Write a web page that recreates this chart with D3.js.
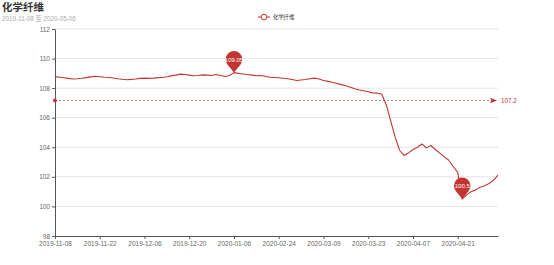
<!DOCTYPE html>
<html>
<head>
<meta charset="utf-8">
<script src="https://cdn.jsdelivr.net/npm/d3@7"></script>
<style>
    body { margin: 0; background: #fff; }
    svg { display: block; font-family: "Liberation Sans", "Noto Sans CJK SC", sans-serif; }
</style>
</head>
<body>
<div id="container"></div>
<script>
const chartTitle = "化学纤维";
const chartSubtitle = "2019-11-08 至 2020-05-06";
const seriesName = "化学纤维";

const dates = [
    "2019-11-08", "2019-11-11", "2019-11-12", "2019-11-13", "2019-11-14", "2019-11-15", "2019-11-18", "2019-11-19", "2019-11-20", "2019-11-21",
    "2019-11-22", "2019-11-25", "2019-11-26", "2019-11-27", "2019-11-28", "2019-11-29", "2019-12-02", "2019-12-03", "2019-12-04", "2019-12-05",
    "2019-12-06", "2019-12-09", "2019-12-10", "2019-12-11", "2019-12-12", "2019-12-13", "2019-12-16", "2019-12-17", "2019-12-18", "2019-12-19",
    "2019-12-20", "2019-12-23", "2019-12-24", "2019-12-25", "2019-12-26", "2019-12-27", "2019-12-30", "2019-12-31", "2020-01-02", "2020-01-03",
    "2020-01-06", "2020-01-07", "2020-01-08", "2020-01-09", "2020-01-10", "2020-01-13", "2020-01-14", "2020-01-15", "2020-01-16", "2020-01-17",
    "2020-02-24", "2020-02-25", "2020-02-26", "2020-02-27", "2020-02-28", "2020-03-02", "2020-03-03", "2020-03-04", "2020-03-05", "2020-03-06",
    "2020-03-09", "2020-03-10", "2020-03-11", "2020-03-12", "2020-03-13", "2020-03-16", "2020-03-17", "2020-03-18", "2020-03-19", "2020-03-20",
    "2020-03-23", "2020-03-24", "2020-03-25", "2020-03-26", "2020-03-27", "2020-03-30", "2020-03-31", "2020-04-01", "2020-04-02", "2020-04-03",
    "2020-04-07", "2020-04-08", "2020-04-09", "2020-04-10", "2020-04-13", "2020-04-14", "2020-04-15", "2020-04-16", "2020-04-17", "2020-04-20",
    "2020-04-21", "2020-04-22", "2020-04-23", "2020-04-24", "2020-04-26", "2020-04-27", "2020-04-28", "2020-04-29", "2020-04-30", "2020-05-06"];

const values = [
    108.78, 108.74, 108.70, 108.66, 108.62, 108.64, 108.67, 108.71, 108.76, 108.80,
    108.77, 108.74, 108.72, 108.69, 108.64, 108.60, 108.57, 108.59, 108.62, 108.66,
    108.68, 108.66, 108.68, 108.71, 108.72, 108.77, 108.83, 108.88, 108.95, 108.92,
    108.88, 108.84, 108.86, 108.90, 108.88, 108.86, 108.92, 108.86, 108.79, 108.86,
    109.05, 109.00, 108.96, 108.92, 108.88, 108.84, 108.86, 108.80, 108.74, 108.72,
    108.70, 108.67, 108.64, 108.58, 108.52, 108.55, 108.58, 108.63, 108.68, 108.62,
    108.52, 108.46, 108.40, 108.32, 108.24, 108.16, 108.06, 107.96, 107.87, 107.82,
    107.76, 107.68, 107.66, 107.60, 106.90, 105.80, 104.70, 103.80, 103.45, 103.62,
    103.85, 104.00, 104.22, 103.96, 104.12, 103.85, 103.60, 103.35, 103.12, 102.70,
    102.30, 100.50, 100.78, 101.00, 101.12, 101.30, 101.40, 101.55, 101.78, 102.12];

const yTicks = [98, 100, 102, 104, 106, 108, 110, 112];

const width = 554, height = 265;
const red = "#c23531";

const svg = d3.select("#container")
    .append("svg")
    .attr("width", width)
    .attr("height", height);

const x = d3.scalePoint()
    .domain(dates)
    .range([55, 498]);

const y = d3.scaleLinear()
    .domain([98, 112])
    .range([236, 29]);

// title + subtitle
svg.append("text")
    .attr("x", 2).attr("y", 11)
    .attr("font-size", 10.5)
    .attr("font-weight", "bold")
    .attr("fill", "#333")
    .text(chartTitle);
svg.append("text")
    .attr("x", 2).attr("y", 20.5)
    .attr("font-size", 6.3)
    .attr("fill", "#aaa")
    .text(chartSubtitle);

// legend
const legend = svg.append("g").attr("transform", "translate(258,17)");
legend.append("line")
    .attr("x1", 0).attr("x2", 12)
    .attr("stroke", red).attr("stroke-width", 1);
legend.append("circle")
    .attr("cx", 6).attr("r", 2.8)
    .attr("fill", "#fff").attr("stroke", red).attr("stroke-width", 1);
legend.append("text")
    .attr("x", 15).attr("y", 1.9)
    .attr("font-size", 5.3)
    .attr("fill", "#333")
    .text(seriesName);

// grid
svg.append("g")
    .selectAll("line")
    .data(yTicks.slice(1))
    .join("line")
    .attr("x1", 55).attr("x2", 498)
    .attr("y1", d => y(d)).attr("y2", d => y(d))
    .attr("stroke", "#e3e3e3")
    .attr("stroke-width", 1);

// axes
const yAxis = svg.append("g")
    .attr("transform", "translate(55,0)")
    .call(d3.axisLeft(y).tickValues(yTicks).tickSize(3).tickPadding(2).tickSizeOuter(0));
const xAxis = svg.append("g")
    .attr("transform", "translate(0,236)")
    .call(d3.axisBottom(x).tickValues(dates.filter((d, i) => i % 10 === 0)).tickSize(3).tickPadding(2).tickSizeOuter(0));

[yAxis, xAxis].forEach(g => {
    g.select(".domain").attr("stroke", "#555");
    g.selectAll(".tick line").attr("stroke", "#555");
    g.selectAll(".tick text")
        .attr("fill", "#666")
        .attr("font-size", 6.5)
        .attr("font-family", "Liberation Sans, sans-serif");
});

// series line
const line = d3.line()
    .x((d, i) => x(dates[i]))
    .y(d => y(d));

svg.append("path")
    .datum(values)
    .attr("fill", "none")
    .attr("stroke", red)
    .attr("stroke-width", 1.1)
    .attr("stroke-linejoin", "round")
    .attr("d", line);

// average mark line
const avg = d3.mean(values);
const avgY = y(avg);
svg.append("line")
    .attr("x1", 55).attr("x2", 492)
    .attr("y1", avgY).attr("y2", avgY)
    .attr("stroke", red)
    .attr("stroke-width", 0.8)
    .attr("stroke-dasharray", "2,2")
    .attr("opacity", 0.8);
svg.append("circle")
    .attr("cx", 55).attr("cy", avgY).attr("r", 2)
    .attr("fill", red);
svg.append("path")
    .attr("d", `M490,${avgY - 2.7}L497,${avgY}L490,${avgY + 2.7}L491.5,${avgY}Z`)
    .attr("fill", red);
svg.append("text")
    .attr("x", 501).attr("y", avgY + 2.2)
    .attr("font-size", 6.3)
    .attr("fill", red)
    .text(avg.toFixed(1));

// max / min pins
const maxI = d3.maxIndex(values), minI = d3.minIndex(values);
const r = 8.3, cy = -13.2;
const cosA = r / -cy, sinA = Math.sqrt(1 - cosA * cosA);
const tx = r * sinA, ty = cy + r * cosA;
const pinPath = `M0,0L${-tx},${ty}A${r},${r} 0 1 1 ${tx},${ty}Z`;

const pins = svg.append("g")
    .selectAll("g")
    .data([{ i: maxI, text: values[maxI].toFixed(2) }, { i: minI, text: values[minI].toFixed(1) }])
    .join("g")
    .attr("transform", d => `translate(${x(dates[d.i])},${y(values[d.i])})`);
pins.append("path")
    .attr("d", pinPath)
    .attr("fill", red);
pins.append("text")
    .attr("y", cy + 2.1)
    .attr("text-anchor", "middle")
    .attr("font-size", 6)
    .attr("fill", "#fff")
    .text(d => d.text);
</script>
</body>
</html>
